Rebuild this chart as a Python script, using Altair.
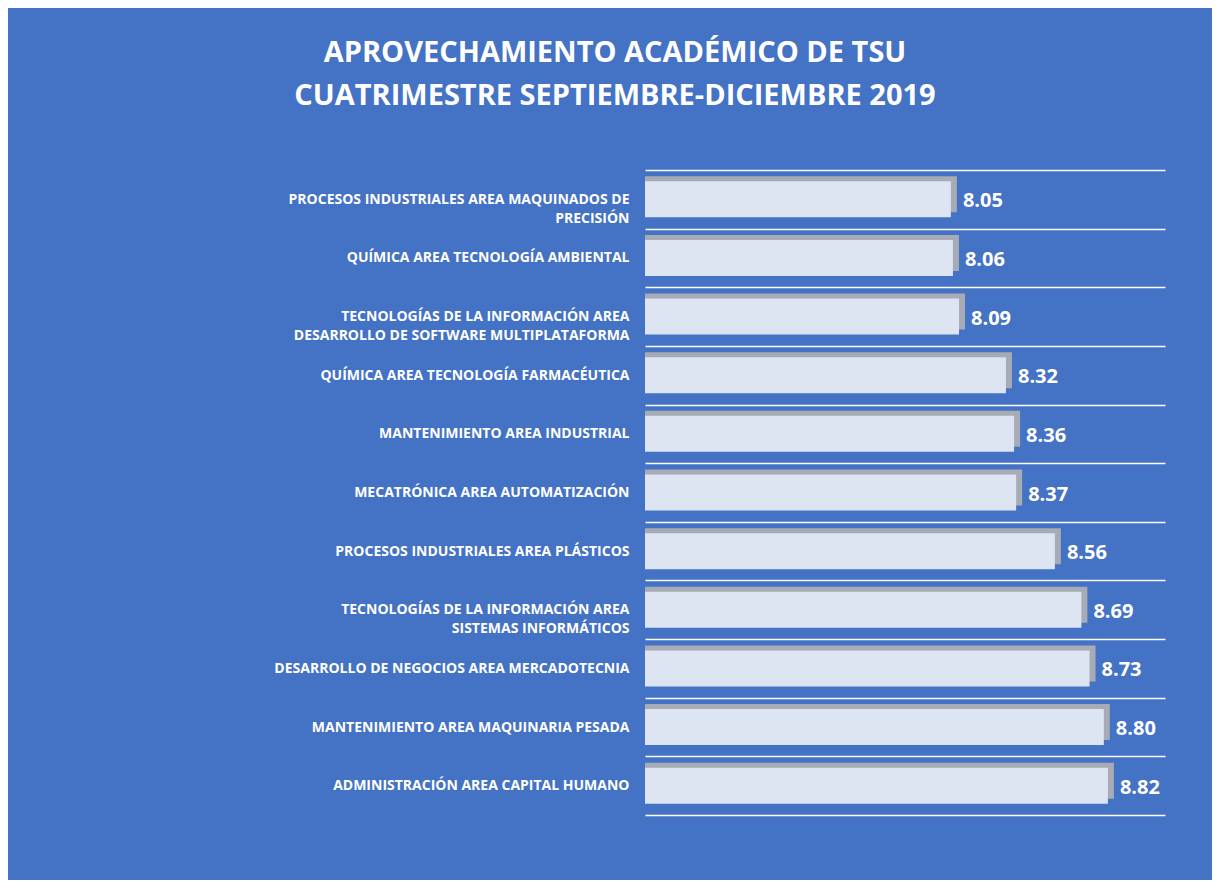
import altair as alt
import pandas as pd

categories = [
    "PROCESOS INDUSTRIALES AREA MAQUINADOS DE\nPRECISIÓN",
    "QUÍMICA AREA TECNOLOGÍA AMBIENTAL",
    "TECNOLOGÍAS DE LA INFORMACIÓN AREA\nDESARROLLO DE SOFTWARE MULTIPLATAFORMA",
    "QUÍMICA AREA TECNOLOGÍA FARMACÉUTICA",
    "MANTENIMIENTO AREA INDUSTRIAL",
    "MECATRÓNICA AREA AUTOMATIZACIÓN",
    "PROCESOS INDUSTRIALES AREA PLÁSTICOS",
    "TECNOLOGÍAS DE LA INFORMACIÓN AREA\nSISTEMAS INFORMÁTICOS",
    "DESARROLLO DE NEGOCIOS AREA MERCADOTECNIA",
    "MANTENIMIENTO AREA MAQUINARIA PESADA",
    "ADMINISTRACIÓN AREA CAPITAL HUMANO",
]
values = [8.05, 8.06, 8.09, 8.32, 8.36, 8.37, 8.56, 8.69, 8.73, 8.80, 8.82]
title_lines = ["APROVECHAMIENTO ACADÉMICO DE TSU", "CUATRIMESTRE SEPTIEMBRE-DICIEMBRE 2019"]

df = pd.DataFrame({"carrera": categories, "valor": values})

FONT = "Open Sans"
BG = "#4472C4"

y_enc = alt.Y(
    "carrera:N",
    sort=categories,
    title=None,
    scale=alt.Scale(paddingInner=0, paddingOuter=0),
    axis=alt.Axis(
        labelExpr="split(datum.label, '\\n')",
        labelColor="white",
        labelFont=FONT,
        labelFontSize=14,
        labelFontWeight="bold",
        labelPadding=16,
        labelLimit=700,
        labelLineHeight=19,
        ticks=False,
        domain=False,
        grid=True,
        gridColor="white",
        gridWidth=1.5,
        tickBand="extent",
    ),
)
x_enc = alt.X(
    "valor:Q",
    axis=None,
    scale=alt.Scale(domain=[6.55, 9.1], zero=False, nice=False),
)

base = alt.Chart(df)

back = base.mark_bar(color="#a6abb5", size=36, xOffset=6, yOffset=-5, clip=True).encode(y=y_enc, x=x_enc)
front = base.mark_bar(color="#dde4f2", size=36, clip=True).encode(y=y_enc, x=x_enc)
labels = base.mark_text(
    align="left", baseline="middle", dx=12, dy=2, fontSize=20, fontWeight="bold", font=FONT, color="white"
).encode(y=y_enc, x=x_enc, text=alt.Text("valor:Q", format=".2f"))

chart = (
    alt.layer(back, front, labels)
    .properties(
        width=520,
        height=645,
        padding={"left": 637, "top": 162, "right": 47, "bottom": 65},
        autosize=alt.AutoSizeParams(type="none"),
        background=BG,
        title=alt.TitleParams(
            title_lines,
            font=FONT,
            fontSize=29,
            fontWeight="bold",
            color="white",
            anchor="middle",
            dx=-290,
            offset=52,
            lineHeight=43,
        ),
    )
    .configure_view(stroke=None)
)

chart.save("out.html", embed_options={"renderer": "svg", "actions": False})
